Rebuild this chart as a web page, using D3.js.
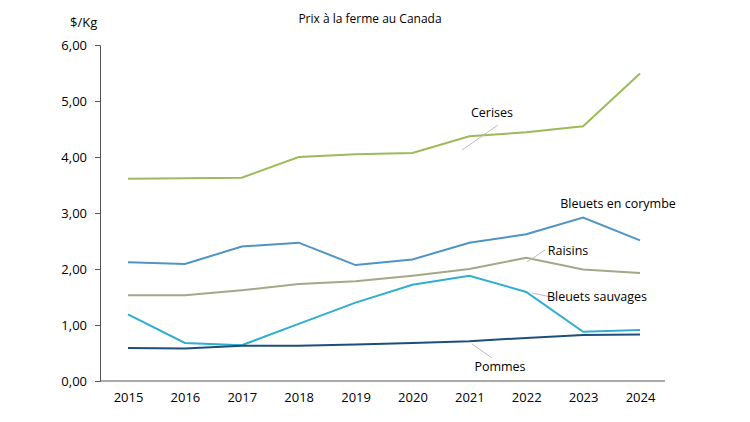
<!DOCTYPE html><html><head><meta charset="utf-8"><script src="https://cdn.jsdelivr.net/npm/d3@7"></script>
<style>body{margin:0;background:#fff}text{font-family:"Open Sans",sans-serif;fill:#000}</style></head><body><svg width="750" height="422"></svg>
<script>
const years=[2015,2016,2017,2018,2019,2020,2021,2022,2023,2024];
const yTicks=[0,1,2,3,4,5,6];
const cerises=[3.61,3.62,3.63,4.00,4.05,4.07,4.37,4.44,4.55,5.49];
const corymbe=[2.12,2.09,2.40,2.47,2.07,2.17,2.47,2.62,2.92,2.51];
const raisins=[1.53,1.53,1.62,1.73,1.78,1.88,2.00,2.20,1.99,1.93];
const sauvages=[1.19,0.68,0.64,1.02,1.40,1.72,1.88,1.59,0.88,0.91];
const pommes=[0.59,0.58,0.63,0.63,0.65,0.68,0.71,0.77,0.82,0.83];
const series=[
 {name:"Cerises",v:cerises,c:"#9bbb59",lx:492,ly:117,lead:[[498,125],[462,150]]},
 {name:"Bleuets en corymbe",v:corymbe,c:"#4f94c4",lx:618,ly:208,lead:null},
 {name:"Raisins",v:raisins,c:"#a3a889",lx:568,ly:255,lead:[[545,250],[527,262]]},
 {name:"Bleuets sauvages",v:sauvages,c:"#2eaed0",lx:597,ly:301,lead:[[532,293],[556,298]]},
 {name:"Pommes",v:pommes,c:"#1f4e79",lx:500,ly:371,lead:[[472,344],[492,358]]}
];
const svg=d3.select("svg");
const x=d3.scalePoint().domain(years).range([128,640]);
const y=d3.scaleLinear().domain([0,6]).range([381,45]);
const fmt=d=>d3.format(".2f")(d).replace(".",",");
const ya=svg.append("g").attr("transform","translate(100,0)").call(d3.axisLeft(y).tickValues(yTicks).tickFormat(fmt).tickSize(5));
ya.select(".domain").attr("stroke","#555");ya.selectAll("line").attr("stroke","#555");
ya.selectAll("text").style("font-size","13px").attr("dx","-5");
const xa=svg.append("g").attr("transform","translate(0,381)").call(d3.axisBottom(x).tickSize(0).tickFormat(d3.format("d")));
xa.select(".domain").attr("d","M100,0H665").attr("stroke","#555");
xa.selectAll("text").style("font-size","13px").attr("dy","1.4em");
svg.append("text").attr("x",370).attr("y",23).attr("text-anchor","middle").style("font-size","12px").text("Prix à la ferme au Canada");
svg.append("text").attr("x",70).attr("y",27).style("font-size","13px").text("$/Kg");
const line=d3.line().x((d,i)=>x(years[i])).y(d=>y(d));
series.forEach(s=>{
 svg.append("path").datum(s.v).attr("d",line).attr("fill","none").attr("stroke",s.c).attr("stroke-width",2);
 if(s.lead)svg.append("line").attr("x1",s.lead[0][0]).attr("y1",s.lead[0][1]).attr("x2",s.lead[1][0]).attr("y2",s.lead[1][1]).attr("stroke","#bbb");
 svg.append("text").attr("x",s.lx).attr("y",s.ly).attr("text-anchor","middle").style("font-size","12.5px").text(s.name);
});
</script></body></html>
